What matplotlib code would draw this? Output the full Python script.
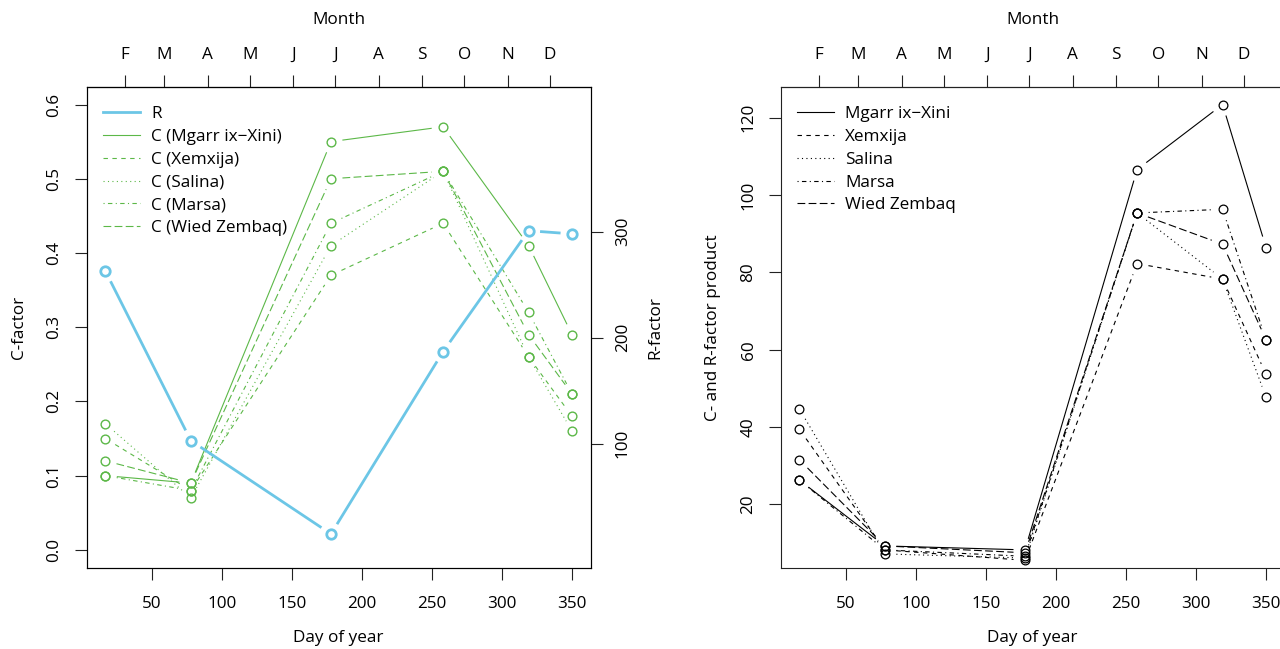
import numpy as np
import matplotlib
matplotlib.use("Agg")
import matplotlib.pyplot as plt
from matplotlib.lines import Line2D

# ---- data -------------------------------------------------------------
days = [17, 78, 178, 258, 319, 350]
r_factor = [263, 103, 15, 187, 301, 298]

c_mgarr = [0.10, 0.09, 0.55, 0.57, 0.41, 0.29]
c_xemxija = [0.15, 0.08, 0.37, 0.44, 0.26, 0.18]
c_salina = [0.17, 0.07, 0.41, 0.51, 0.26, 0.16]
c_marsa = [0.10, 0.08, 0.44, 0.51, 0.32, 0.21]
c_wied = [0.12, 0.09, 0.50, 0.51, 0.29, 0.21]

sites = ["Mgarr ix\u2212Xini", "Xemxija", "Salina", "Marsa", "Wied Zembaq"]
c_series = [c_mgarr, c_xemxija, c_salina, c_marsa, c_wied]

month_starts = [0, 31, 59, 90, 120, 151, 181, 212, 243, 273, 304, 334]
month_labels = ["J", "F", "M", "A", "M", "J", "J", "A", "S", "O", "N", "D"]

day_ticks = [50, 100, 150, 200, 250, 300, 350]
c_ticks = [0.0, 0.1, 0.2, 0.3, 0.4, 0.5, 0.6]
r_ticks = [100, 200, 300]
prod_ticks = [20, 40, 60, 80, 100, 120]

# ---- style ------------------------------------------------------------
plt.rcParams["font.family"] = ["Open Sans", "DejaVu Sans"]
FS = 12.3
BLUE = "#6cc6e6"
GREEN = "#5cb848"
LW = 0.8
# R line types 1..5 (solid, dashed, dotted, dotdash, longdash)
LTYS = ["-", (0, (4, 4)), (0, (1, 3)), (0, (1, 3, 4, 3)), (0, (7, 3))]
GAP = 11.5  # pixel gap around points, like type = "b"
TICKLEN = 8.4


def pad_range(lo, hi, f=0.04):
    d = hi - lo
    return lo - f * d, hi + f * d


def gapped_line(ax, x, y, **kw):
    """Connect points with segments that stop short of each point."""
    pts = ax.transData.transform(np.column_stack([x, y]))
    inv = ax.transData.inverted()
    for p, q in zip(pts[:-1], pts[1:]):
        d = q - p
        length = np.hypot(*d)
        if length <= 2 * GAP:
            continue
        u = d / length
        a = inv.transform(p + u * GAP)
        b = inv.transform(q - u * GAP)
        ax.plot([a[0], b[0]], [a[1], b[1]], solid_capstyle="butt",
                dash_capstyle="butt", **kw)


def style_axes(ax):
    for s in ax.spines.values():
        s.set_linewidth(0.8)
        s.set_color("#222222")
    ax.tick_params(length=TICKLEN, width=0.8, color="#222222",
                   labelsize=FS, pad=9)
    ax.tick_params(axis="x", pad=12)
    ax.set_xticks(day_ticks)
    ax.set_xlabel("Day of year", fontsize=FS, labelpad=13)
    top = ax.secondary_xaxis("top")
    top.set_xticks(month_starts)
    top.set_xticklabels(month_labels)
    top.tick_params(length=TICKLEN, width=0.8, color="#222222",
                    labelsize=FS, pad=9)
    top.set_xlabel("Month", fontsize=FS, labelpad=16)
    top.spines["top"].set_linewidth(0.8)
    for lab in ax.get_yticklabels():
        lab.set_rotation(90)
        lab.set_va("center")


fig = plt.figure(figsize=(12.8, 6.49), dpi=100)
W, H = 1280.0, 649.0
ax1 = fig.add_axes([86.7 / W, 81.3 / H, 504 / W, 481 / H])
ax3 = fig.add_axes([780.7 / W, 81.3 / H, 504 / W, 481 / H])

xlim = pad_range(min(days), max(days))

# ---- left panel: C-factor and R-factor -------------------------------
ax1.set_xlim(xlim)
ax1.set_ylim(pad_range(0, 0.6))
ax1.set_yticks(c_ticks)
ax1.set_yticklabels([f"{v:.1f}" for v in c_ticks])
ax1.set_ylabel("C-factor", fontsize=FS, labelpad=14)
style_axes(ax1)

ax2 = ax1.twinx()
ax2.set_ylim(pad_range(0, 420))
ax2.set_yticks(r_ticks)
ax2.tick_params(length=TICKLEN, width=0.8, color="#222222", labelsize=FS,
                pad=9)
for lab in ax2.get_yticklabels():
    lab.set_rotation(90)
    lab.set_va("center")
ax2.set_ylabel("R-factor", fontsize=FS, labelpad=12)

for vals, ls in zip(c_series, LTYS):
    gapped_line(ax1, days, vals, color=GREEN, lw=LW, linestyle=ls)
    ax1.plot(days, vals, "o", ms=6.3, mfc="none", mec=GREEN, mew=1.0)

gapped_line(ax2, days, r_factor, color=BLUE, lw=2.0, linestyle="-")
ax2.plot(days, r_factor, "o", ms=6.8, mfc="none", mec=BLUE, mew=2.0)

handles = [Line2D([], [], color=BLUE, lw=2.0)]
labels = ["R"]
for name, ls in zip(sites, LTYS):
    handles.append(Line2D([], [], color=GREEN, lw=LW, linestyle=ls))
    labels.append(f"C ({name})")
ax2.legend(handles, labels, loc="upper left", frameon=False, fontsize=FS,
           handlelength=2.16, handletextpad=0.68, labelspacing=0.40,
           borderaxespad=0.0, bbox_to_anchor=(0.018, 0.974))

# ---- right panel: C x R product ------------------------------------
products = [[c * r for c, r in zip(vals, r_factor)] for vals in c_series]

ax3.set_xlim(xlim)
ax3.set_ylim(pad_range(min(products[0]), max(products[0])))
ax3.set_yticks(prod_ticks)
ax3.set_ylabel("C- and R-factor product", fontsize=FS, labelpad=14)
style_axes(ax3)

for vals, ls in zip(products, LTYS):
    gapped_line(ax3, days, vals, color="black", lw=LW, linestyle=ls)
    ax3.plot(days, vals, "o", ms=6.3, mfc="none", mec="black", mew=0.9)

handles = [Line2D([], [], color="black", lw=LW, linestyle=ls) for ls in LTYS]
ax3.legend(handles, sites, loc="upper left", frameon=False, fontsize=FS,
           handlelength=2.16, handletextpad=0.68, labelspacing=0.40,
           borderaxespad=0.0, bbox_to_anchor=(0.018, 0.974))

fig.savefig("out.png", dpi=100)
